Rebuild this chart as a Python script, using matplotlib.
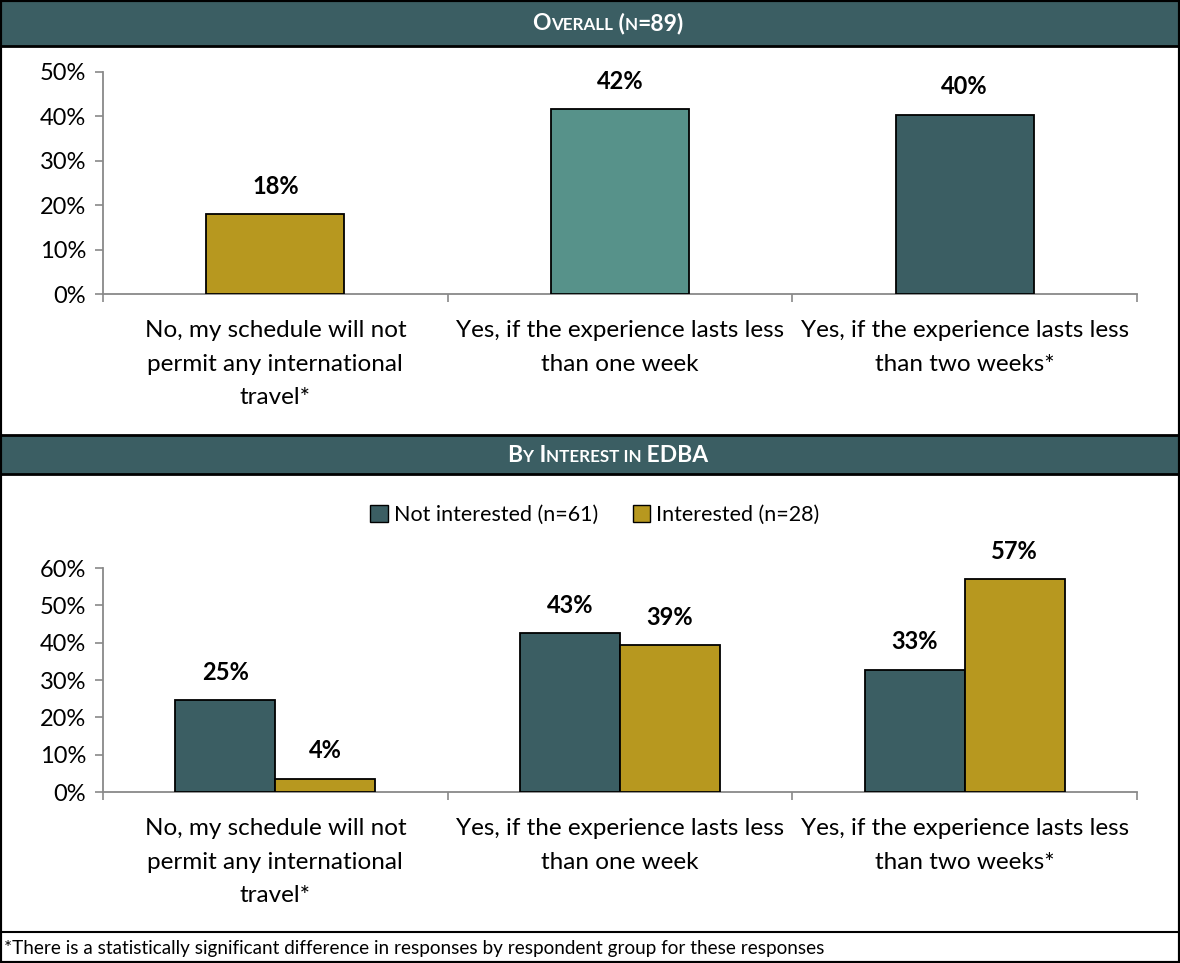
import matplotlib
matplotlib.use("Agg")
import matplotlib.pyplot as plt
from matplotlib.patches import Rectangle, Patch
from matplotlib.lines import Line2D
import numpy as np

plt.rcParams['font.family'] = ['Lato', 'DejaVu Sans']

# ---------------- data ----------------
categories = [
    "No, my schedule will not\npermit any international\ntravel*",
    "Yes, if the experience lasts less\nthan one week",
    "Yes, if the experience lasts less\nthan two weeks*",
]
overall_values = [18.0, 41.6, 40.4]
not_interested_values = [24.6, 42.6, 32.8]
interested_values = [3.6, 39.3, 57.1]
series_names = ["Not interested (n=61)", "Interested (n=28)"]
top_ticks = [0, 10, 20, 30, 40, 50]
bottom_ticks = [0, 10, 20, 30, 40, 50, 60]
title_top = [("O", 1.0), ("VERALL", 0.74), (" (", 1.0), ("N", 0.74), ("=89)", 1.0)]
title_bottom = [("B", 1.0), ("Y", 0.74), (" I", 1.0), ("NTEREST IN", 0.74), (" EDBA", 1.0)]
footnote = "*There is a statistically significant difference in responses by respondent group for these responses"

# ---------------- style ----------------
GOLD = "#B7981F"
TEAL = "#57928A"
DARK = "#3B5E63"
AXC = "#898989"
W, H = 1180, 963
FS_TICK = 17
FS_CAT = 17.5
FS_LAB = 17

fig = plt.figure(figsize=(W / 100, H / 100), dpi=100)


def fy(py):
    return (H - py) / H


def fx(px):
    return px / W


# header bands
def header(y0, y1, pieces, base):
    fig.patches.append(Rectangle((0, fy(y1)), 1, fy(y0) - fy(y1), transform=fig.transFigure,
                                 facecolor=DARK, edgecolor="black", lw=2.0, zorder=0))
    r = fig.canvas.get_renderer()
    widths = []
    texts = []
    for s, scale in pieces:
        t = fig.text(0, 0, s, fontsize=base * scale, fontweight="bold", color="white")
        bb = t.get_window_extent(renderer=r)
        widths.append(bb.width)
        texts.append(t)
    total = sum(widths)
    x = 608 - total / 2
    yb = (y0 + y1) / 2 + 7.5
    for t, w in zip(texts, widths):
        t.set_position((fx(x), fy(yb)))
        t.set_va("baseline")
        x += w


header(0, 46, title_top, 16.5)
header(435, 474, title_bottom, 16.5)

# outer border & footer line
fig.patches.append(Rectangle((0, 0), 1, 1, transform=fig.transFigure, fill=False,
                             edgecolor="black", lw=3, zorder=0))
fig.add_artist(Line2D([0, 1], [fy(932), fy(932)], transform=fig.transFigure, color="black", lw=1.5))
fig.text(fx(4), fy(948), footnote, fontsize=13.6, va="center", ha="left", color="black")


def style_axes(ax, ymax, ticks):
    ax.set_xlim(-0.5, 2.5)
    ax.set_ylim(0, ymax)
    for s in ["top", "right"]:
        ax.spines[s].set_visible(False)
    for s in ["left", "bottom"]:
        ax.spines[s].set_color(AXC)
        ax.spines[s].set_linewidth(1.3)
    ax.set_yticks(ticks)
    ax.set_yticklabels([f"{t}%" for t in ticks], fontsize=FS_TICK)
    ax.tick_params(axis="y", length=6, color=AXC, width=1.2, pad=6)
    ax.set_xticks([-0.5, 0.5, 1.5, 2.5])
    ax.set_xticklabels([])
    ax.tick_params(axis="x", which="major", length=6, color=AXC, width=1.2)
    ax.set_xticks(np.arange(3), minor=True)
    ax.set_xticklabels(categories, minor=True, fontsize=FS_CAT, linespacing=1.72)
    ax.tick_params(axis="x", which="minor", length=0, pad=19)
    ax.set_facecolor("none")


# top axes
ax1 = fig.add_axes([fx(103), fy(294), fx(1137) - fx(103), (294 - 72) / H])
x = np.arange(3)
bars = ax1.bar(x, overall_values, width=0.4, color=[GOLD, TEAL, DARK], edgecolor="black", lw=1.3, zorder=3)
for b, v in zip(bars, overall_values):
    ax1.annotate(f"{v:.0f}%", (b.get_x() + b.get_width() / 2, v), xytext=(0, 20),
                 textcoords="offset points", ha="center", va="center", fontsize=FS_LAB, fontweight="bold")
style_axes(ax1, 50, top_ticks)

# bottom axes
ax2 = fig.add_axes([fx(103), fy(792), fx(1137) - fx(103), (792 - 568) / H])
bw = 0.29
b1 = ax2.bar(x - bw / 2, not_interested_values, width=bw, color=DARK, edgecolor="black", lw=1.3,
             zorder=3, label=series_names[0])
b2 = ax2.bar(x + bw / 2, interested_values, width=bw, color=GOLD, edgecolor="black", lw=1.3,
             zorder=3, label=series_names[1])
for bs, vals in [(b1, not_interested_values), (b2, interested_values)]:
    for b, v in zip(bs, vals):
        ax2.annotate(f"{v:.0f}%", (b.get_x() + b.get_width() / 2, v), xytext=(0, 20),
                     textcoords="offset points", ha="center", va="center", fontsize=FS_LAB, fontweight="bold")
style_axes(ax2, 60, bottom_ticks)

handles = [Patch(facecolor=DARK, edgecolor="black", lw=1.0), Patch(facecolor=GOLD, edgecolor="black", lw=1.0)]
fig.legend(handles, series_names, loc="center", bbox_to_anchor=(fx(595), fy(515)), ncol=2, frameon=False,
           fontsize=15.5, handlelength=0.8, handleheight=0.8, handletextpad=0.3, columnspacing=1.6)

fig.savefig("out.png", dpi=100)
